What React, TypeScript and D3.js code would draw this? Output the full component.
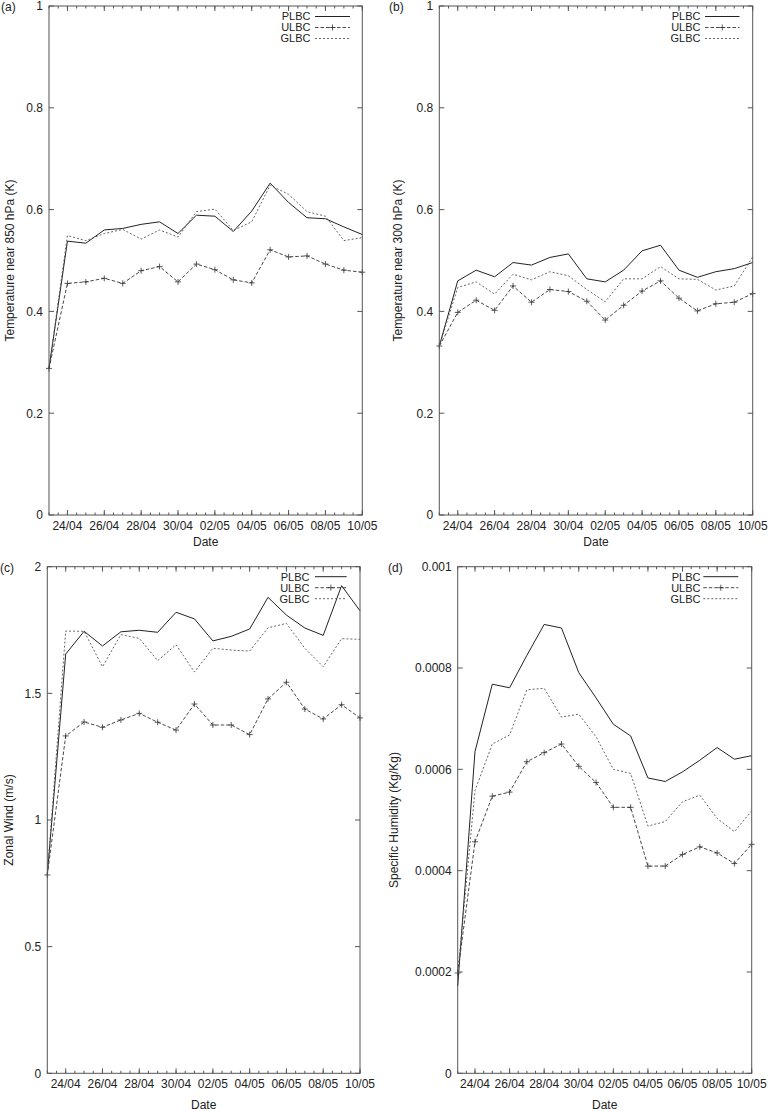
import React from "react";
import * as d3 from "d3";

// ---------- DATA ----------
const dateStrings = [
  "2010-04-23", "2010-04-24", "2010-04-25", "2010-04-26", "2010-04-27", "2010-04-28",
  "2010-04-29", "2010-04-30", "2010-05-01", "2010-05-02", "2010-05-03", "2010-05-04",
  "2010-05-05", "2010-05-06", "2010-05-07", "2010-05-08", "2010-05-09", "2010-05-10",
];

const seriesNames = ["PLBC", "ULBC", "GLBC"];

// (a) Temperature near 850 hPa
const t850PLBC = [0.288, 0.538, 0.534, 0.560, 0.563, 0.571, 0.576, 0.553, 0.589, 0.587, 0.557, 0.597, 0.652, 0.614, 0.584, 0.582, 0.566, 0.551];
const t850ULBC = [0.288, 0.455, 0.458, 0.465, 0.455, 0.480, 0.488, 0.458, 0.493, 0.482, 0.462, 0.456, 0.521, 0.507, 0.509, 0.493, 0.481, 0.477];
const t850GLBC = [0.288, 0.549, 0.539, 0.553, 0.561, 0.542, 0.560, 0.546, 0.596, 0.601, 0.559, 0.576, 0.648, 0.630, 0.596, 0.587, 0.539, 0.545];

// (b) Temperature near 300 hPa
const t300PLBC = [0.332, 0.460, 0.481, 0.468, 0.496, 0.491, 0.506, 0.513, 0.464, 0.458, 0.481, 0.519, 0.530, 0.481, 0.467, 0.478, 0.484, 0.496];
const t300ULBC = [0.332, 0.398, 0.422, 0.402, 0.450, 0.418, 0.443, 0.439, 0.420, 0.383, 0.412, 0.440, 0.460, 0.426, 0.401, 0.415, 0.418, 0.435];
const t300GLBC = [0.332, 0.447, 0.458, 0.434, 0.473, 0.462, 0.478, 0.470, 0.443, 0.419, 0.464, 0.464, 0.488, 0.464, 0.463, 0.442, 0.450, 0.507];

// (c) Zonal wind
const windPLBC = [0.783, 1.655, 1.745, 1.687, 1.743, 1.749, 1.741, 1.820, 1.794, 1.707, 1.725, 1.754, 1.879, 1.809, 1.758, 1.729, 1.925, 1.826];
const windULBC = [0.783, 1.332, 1.387, 1.366, 1.395, 1.421, 1.386, 1.355, 1.458, 1.375, 1.375, 1.337, 1.478, 1.544, 1.438, 1.399, 1.455, 1.403];
const windGLBC = [0.783, 1.746, 1.745, 1.605, 1.732, 1.717, 1.629, 1.692, 1.584, 1.678, 1.671, 1.667, 1.759, 1.776, 1.678, 1.605, 1.716, 1.713];

// (d) Specific humidity
const humPLBC = [0.000172, 0.000635, 0.000768, 0.000761, 0.000825, 0.000886, 0.000879, 0.000791, 0.000741, 0.000689, 0.000666, 0.000583, 0.000576, 0.000595, 0.000618, 0.000643, 0.000620, 0.000627];
const humULBC = [0.000198, 0.000457, 0.000547, 0.000555, 0.000615, 0.000633, 0.000650, 0.000606, 0.000574, 0.000525, 0.000525, 0.000409, 0.000409, 0.000432, 0.000447, 0.000435, 0.000414, 0.000452];
const humGLBC = [0.000195, 0.000558, 0.000650, 0.000668, 0.000757, 0.000760, 0.000703, 0.000709, 0.000664, 0.000600, 0.000592, 0.000488, 0.000497, 0.000536, 0.000549, 0.000503, 0.000477, 0.000518];

const yTicksTemp = [0, 0.2, 0.4, 0.6, 0.8, 1];
const yTicksWind = [0, 0.5, 1, 1.5, 2];
const yTicksHum = [0, 0.0002, 0.0004, 0.0006, 0.0008, 0.001];

const yTitles = [
  "Temperature near 850 hPa (K)",
  "Temperature near 300 hPa (K)",
  "Zonal Wind (m/s)",
  "Specific Humidity (Kg/Kg)",
];
const panelLetters = ["(a)", "(b)", "(c)", "(d)"];
const xTitle = "Date";

// ---------- LAYOUT ----------
const FONT = "'Liberation Sans', Arial, Helvetica, sans-serif";
const FRAME = "#555";

type Layout = {
  left: number; right: number; top: number; bottom: number;
  letterX: number; letterY: number; titleX: number;
  legendTextRight: number; legendLine: [number, number]; legendY: number; legendStep: number;
  tickLabelY: number; dateY: number;
};

const layouts: Layout[] = [
  { left: 49, right: 362.3, top: 6, bottom: 515, letterX: 1, letterY: 11, titleX: 10,
    legendTextRight: 310.5, legendLine: [315, 350], legendY: 16.5, legendStep: 11, tickLabelY: 530, dateY: 546 },
  { left: 439.3, right: 752.7, top: 6, bottom: 515, letterX: 389, letterY: 11, titleX: 398,
    legendTextRight: 700.5, legendLine: [705, 739.5], legendY: 16.5, legendStep: 11, tickLabelY: 530, dateY: 546 },
  { left: 47.3, right: 360, top: 566.7, bottom: 1073.3, letterX: 0, letterY: 572, titleX: 8.5,
    legendTextRight: 309.5, legendLine: [315, 346.7], legendY: 576.7, legendStep: 11, tickLabelY: 1088, dateY: 1109 },
  { left: 457.7, right: 751.7, top: 566.7, bottom: 1073.3, letterX: 388, letterY: 572, titleX: 394,
    legendTextRight: 700.5, legendLine: [703.3, 738.3], legendY: 576.7, legendStep: 11, tickLabelY: 1088, dateY: 1109 },
];

const parse = d3.utcParse("%Y-%m-%d");
const dates = dateStrings.map((s) => parse(s) as Date);
const fmtDate = d3.utcFormat("%d/%m");
const fmtY = d3.format("~g");

const styles = [
  { dash: "none", width: 1, color: "#222" },
  { dash: "3.5,2", width: 0.9, color: "#333" },
  { dash: "2,2", width: 0.9, color: "#555" },
];

function Plus({ x, y }: { x: number; y: number }) {
  const s = 3;
  return (
    <g stroke="#333" strokeWidth={0.8}>
      <line x1={x - s} x2={x + s} y1={y} y2={y} />
      <line x1={x} x2={x} y1={y - s} y2={y + s} />
    </g>
  );
}

function Panel({ idx, series, yTicks }: { idx: number; series: number[][]; yTicks: number[] }) {
  const L = layouts[idx];
  const x = d3.scaleUtc().domain([dates[0], dates[dates.length - 1]]).range([L.left, L.right]);
  const y = d3.scaleLinear().domain([yTicks[0], yTicks[yTicks.length - 1]]).range([L.bottom, L.top]);
  const end = new Date(dates[dates.length - 1].getTime() + 1);
  const minor = d3.utcHour.every(12)!.range(dates[0], end);
  const days = d3.utcDay.range(dates[0], end);
  const major = days.filter((_, i) => i % 2 === 1);
  const line = d3.line<number>().x((_, i) => x(dates[i])).y((v) => y(v));
  const cx = (L.left + L.right) / 2;
  const cy = (L.top + L.bottom) / 2;

  return (
    <g fontFamily={FONT} fill="#222">
      {series.map((vals, si) => (
        <path key={si} d={line(vals) || ""} fill="none" stroke={styles[si].color}
          strokeWidth={styles[si].width} strokeDasharray={styles[si].dash} />
      ))}
      {series[1].map((v, i) => <Plus key={i} x={x(dates[i])} y={y(v)} />)}

      <rect x={L.left} y={L.top} width={L.right - L.left} height={L.bottom - L.top}
        fill="none" stroke={FRAME} strokeWidth={1} />

      {minor.map((d, i) => (
        <g key={"mn" + i} stroke={FRAME} strokeWidth={1}>
          <line x1={x(d)} x2={x(d)} y1={L.bottom} y2={L.bottom - 2.5} />
          <line x1={x(d)} x2={x(d)} y1={L.top} y2={L.top + 2.5} />
        </g>
      ))}
      {major.map((d, i) => (
        <g key={"mj" + i}>
          <line x1={x(d)} x2={x(d)} y1={L.bottom} y2={L.bottom - 5} stroke={FRAME} />
          <line x1={x(d)} x2={x(d)} y1={L.top} y2={L.top + 5} stroke={FRAME} />
          <text x={x(d)} y={L.tickLabelY} textAnchor="middle" fontSize={12}>{fmtDate(d)}</text>
        </g>
      ))}

      {yTicks.map((t, i) => (
        <g key={"y" + i}>
          <line x1={L.left} x2={L.left + 5} y1={y(t)} y2={y(t)} stroke={FRAME} />
          <line x1={L.right} x2={L.right - 5} y1={y(t)} y2={y(t)} stroke={FRAME} />
          <text x={L.left - 6} y={y(t)} dy="0.36em" textAnchor="end" fontSize={12}>{fmtY(t)}</text>
        </g>
      ))}

      <text x={cx} y={L.dateY} textAnchor="middle" fontSize={12}>{xTitle}</text>
      <text transform={`translate(${L.titleX},${cy}) rotate(-90)`} textAnchor="middle"
        dy="0.36em" fontSize={12}>{yTitles[idx]}</text>
      <text x={L.letterX} y={L.letterY} fontSize={12}>{panelLetters[idx]}</text>

      {seriesNames.map((n, si) => {
        const ly = L.legendY + si * L.legendStep;
        return (
          <g key={"lg" + si}>
            <text x={L.legendTextRight} y={ly} dy="0.36em" textAnchor="end" fontSize={11}>{n}</text>
            <line x1={L.legendLine[0]} x2={L.legendLine[1]} y1={ly} y2={ly}
              stroke={styles[si].color} strokeWidth={styles[si].width} strokeDasharray={styles[si].dash} />
            {si === 1 && <Plus x={(L.legendLine[0] + L.legendLine[1]) / 2} y={ly} />}
          </g>
        );
      })}
    </g>
  );
}

export default function App() {
  return (
    <svg width={770} height={1111} viewBox="0 0 770 1111"
      style={{ position: "absolute", left: 0, top: 0, background: "#fff" }}>
      <rect x={0} y={0} width={770} height={1111} fill="#fff" />
      <Panel idx={0} series={[t850PLBC, t850ULBC, t850GLBC]} yTicks={yTicksTemp} />
      <Panel idx={1} series={[t300PLBC, t300ULBC, t300GLBC]} yTicks={yTicksTemp} />
      <Panel idx={2} series={[windPLBC, windULBC, windGLBC]} yTicks={yTicksWind} />
      <Panel idx={3} series={[humPLBC, humULBC, humGLBC]} yTicks={yTicksHum} />
    </svg>
  );
}
